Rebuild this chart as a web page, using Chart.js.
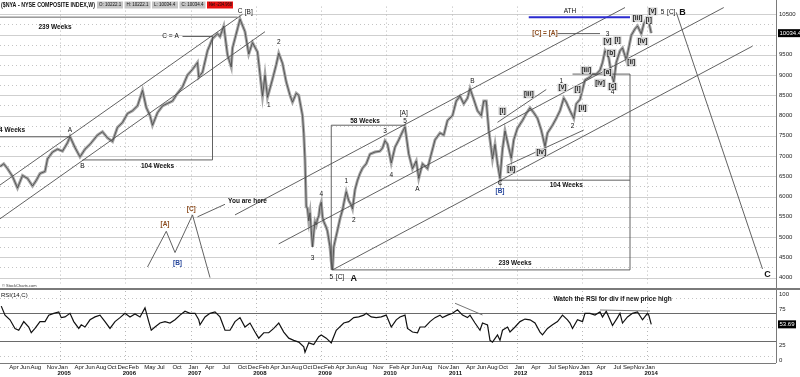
<!DOCTYPE html>
<html>
<head>
<meta charset="utf-8">
<script src="https://cdn.jsdelivr.net/npm/chart.js@4.4.0/dist/chart.umd.min.js"></script>
<style>
html, body { margin: 0; padding: 0; background: #fff; }
#wrap { position: relative; width: 800px; height: 377px; overflow: hidden; }
canvas { position: absolute; left: 0; }
#priceChart { top: 0; }
#rsiChart { top: 290px; }
</style>
</head>
<body>
<div id="wrap">
  <canvas id="priceChart" width="800" height="290"></canvas>
  <canvas id="rsiChart" width="800" height="87"></canvas>
</div>
<script>
// weekly data, week 0 = first week of 2004
const weeks = [4,7,10,14,18,22,26,30,33,36,40,42,46,50,54,58,60,64,68,72,76,82,86,90,94,98,102,106,110,114,118,121,124,126,130,134,138,142,146,150,154,158,162,163,166,170,174,178,180,183,186,189,190,194,196,200,203,206,210,214,216,218,222,225,227,230,233,236,238,241,243,246,247,248,249,250,251,252,253,254,255,256,257,258,259,260,261,262,263,265,266,268,269,270,271,272,274,276,278,280,281,283,285,286,288,290,292,294,297,300,304,308,310,312,314,317,320,323,326,328,331,334,337,339,342,346,349,352,356,359,362,366,369,372,375,378,380,383,386,389,391,393,395,397,398,400,402,404,406,408,411,413,415,418,422,425,428,431,434,437,440,442,446,449,452,455,457,460,463,465,468,470,472,476,478,481,484,486,488,491,493,495,497,500,502,505,507,509,512,514,517,519,521,523,525];
const closes = [6740,6810,6690,6500,6210,6520,6450,6260,6400,6570,6620,6930,7100,7170,7120,7330,7480,7210,6980,7170,7290,7520,7600,7450,7360,7710,7830,8050,8120,8240,8620,8200,8000,7760,8070,8240,8300,8360,8550,8710,9000,9140,9310,8950,9070,9600,9900,10020,9950,10210,9500,9200,9670,10140,10380,10070,9520,9800,9570,8480,9000,8450,8900,9260,9540,9290,8830,8500,8330,8550,8500,8000,7560,6900,5760,5700,5400,5600,5170,4760,5100,5380,5300,5450,5520,5760,5860,5500,5380,5240,5140,4760,4400,4190,4760,4900,5170,5450,5670,5980,6120,5900,5790,5700,6170,6400,6570,6700,6810,7050,7100,7120,7200,7380,7290,6830,7220,7400,7600,7720,7050,6690,6880,6450,6810,6690,7050,7400,7570,7520,7880,8000,8360,8480,8290,8430,8670,8400,8120,8000,8360,8360,7640,7170,6930,7290,6810,6450,7170,7620,7210,6950,7400,7690,7880,8050,8190,8070,7930,7640,7240,7570,7760,7930,8120,8430,8330,8120,7930,8290,8400,8640,8880,8950,9020,9020,9120,9310,9600,9430,9050,8830,9310,9600,9670,9380,9670,9980,10140,10210,10020,10260,10380,10310,10034.4];

const rsiWeeks = [5,8,12,16,19,23,27,29,32,36,40,43,47,51,53,56,60,63,67,69,72,76,80,84,88,92,96,100,104,108,112,116,120,123,125,128,132,136,140,144,148,152,156,160,163,164,168,172,176,180,184,188,192,196,200,204,208,211,215,219,223,227,231,235,239,243,247,248,251,255,259,261,265,269,273,279,283,287,291,295,297,301,305,309,313,317,321,324,328,330,334,338,340,344,348,352,356,358,362,366,370,374,378,380,384,388,390,394,396,398,402,404,406,410,412,416,420,424,428,432,436,438,442,446,450,454,458,460,462,466,470,472,476,480,484,486,489,492,494,498,500,502,506,510,514,518,522,523,525];
const rsiValues = [79,66.5,60,48,45.5,57.5,50,42,48,57.5,57.5,66.5,69,71,63,64,69,57.5,48,53,50,60,64,66.5,57.5,48,57.5,63,69,64,68,64,76.5,57.5,45.5,50,55.5,57.5,55.5,60,66.5,72,69,69,60,53,64,69,71,64,45.5,45.5,57.5,63,50,55.5,43,34.5,42,42,48,55.5,43,34.5,31.5,29,22.5,15,28,25.5,36.5,39,34.5,28,45.5,55.5,57.5,63,64,66.5,69,64,63,64,66.5,50,60,64,66.5,48,43,42,50,50,57.5,63,66.5,63,66.5,69,74,66.5,63,66.5,55.5,45.5,55.5,53,31.5,29,39,31.5,45.5,50,43,50,57.5,61,60,55.5,43,39,48,53,57.5,66.5,60,55.5,48,60,57.5,69,69,66.5,71,64,72,60,52,63,69,55.5,64,69,71,60,69,66.5,53.69];

const priceTicks = [4000,4500,5000,5500,6000,6500,7000,7500,8000,8500,9000,9500,10000,10500];
const rsiTicks = [0,25,75,100];
const monthTicks = ['2004-04','2004-06','2004-08','2004-11','2005-01','2005-04','2005-06','2005-08','2005-10','2005-12','2006-02','2006-05','2006-07','2006-10','2007-01','2007-04','2007-07','2007-10','2007-12','2008-02','2008-04','2008-06','2008-08','2008-10','2008-12','2009-02','2009-04','2009-06','2009-08','2009-11','2010-02','2010-04','2010-06','2010-08','2010-11','2011-01','2011-04','2011-06','2011-08','2011-10','2012-01','2012-04','2012-07','2012-09','2012-11','2013-01','2013-04','2013-07','2013-09','2013-11','2014-01'];
const yearTicks = [2005,2006,2007,2008,2009,2010,2011,2012,2013,2014];

const lastClose = 10034.4;
const lastRsi = 53.69;

const WPY = 52.18;
const MONTHS = ['Jan','Feb','Mar','Apr','May','Jun','Jul','Aug','Sep','Oct','Nov','Dec'];
const X_MIN = 4, X_MAX = 624.8;
const FONT = 'Liberation Sans, Arial, sans-serif';

function monthWeek(s) {
    const [y, m] = s.split('-').map(Number);
    return (y - 2004 + (m - 0.5) / 12) * WPY;
}

// chart markup (week, price)
const priceLines = [
    { pts: [[4, 10430], [194, 10430]] },
    { pts: [[4, 7476], [60, 7476]] },
    { pts: [[70, 6905], [174, 6905], [174, 9952]] },
    { pts: [[150, 9952], [174, 9952]] },
    { pts: [[4, 6286], [198, 10500]] },
    { pts: [[4, 5452], [216, 10071]] },
    { pts: [[192, 5548], [504, 10667]] },
    { pts: [[227, 4833], [583, 10667]] },
    { pts: [[270, 4190], [606, 9714]] },
    { pts: [[402, 7833], [441, 8643]] },
    { pts: [[409, 6762], [471, 7643]] },
    { pts: [[328, 7762], [269, 7762], [269, 4190]] },
    { pts: [[270, 4190], [508, 4190], [508, 9024], [462, 9024]] },
    { pts: [[404, 6405], [508, 6405]] },
    { pts: [[450, 10024], [484, 10024]] },
    { pts: [[427, 10429], [508, 10429]], color: '#2b2bd0', width: 2 },
    { pts: [[545, 10548], [614, 4214]] },
    { pts: [[122, 4262], [137, 5143], [144, 4619], [158, 5548], [172, 4000]] },
    { pts: [[162, 5500], [184, 5810]] }
];

const priceLabels = [
    [48, 10190, '239 Weeks', 'b'],
    [24, 7643, '104 Weeks', 'br'],
    [60, 7643, 'A', 'n'],
    [70, 6738, 'B', 'n'],
    [130, 6738, '104 Weeks', 'b'],
    [147, 9952, 'C = A', 'nr'],
    [196, 10571, 'C', 'n'], [203, 10548, '[B]', 'n'],
    [227, 9810, '2', 'n'],
    [219, 8262, '1', 'n'],
    [254, 4476, '3', 'n'],
    [261, 6071, '4', 'n'],
    [269, 4000, '5', 'n'], [276, 4000, '[C]', 'n'], [287, 3976, 'A', 'big'],
    [281, 6381, '1', 'n'],
    [287, 5429, '2', 'n'],
    [312, 7619, '3', 'n'],
    [317, 6524, '4', 'n'],
    [327, 8048, '[A]', 'n'], [328, 7857, '5', 'n'],
    [338, 6190, 'A', 'n'],
    [382, 8857, 'B', 'n'],
    [404, 6333, 'C', 'n'], [404, 6143, '[B]', 'blue'],
    [406, 8119, '[i]', 'box'],
    [413, 6667, '[ii]', 'box'],
    [427, 8524, '[iii]', 'box'],
    [437, 7095, '[iv]', 'box'],
    [453, 8857, '1', 'n'], [454, 8690, '[v]', 'box'],
    [466, 8643, '[i]', 'box'],
    [470, 8190, '[ii]', 'box'],
    [462, 7738, '2', 'n'],
    [473, 9119, '[iii]', 'box'],
    [484, 8810, '[iv]', 'box'],
    [490, 9071, '[a]', 'box'],
    [493, 9548, '[b]', 'box'],
    [494, 8714, '[c]', 'box'], [494, 8571, '4', 'n'],
    [490, 10000, '3', 'n'], [490, 9833, '[v]', 'box'],
    [498, 9857, '[i]', 'box'],
    [509, 9310, '[ii]', 'box'],
    [514, 10405, '[iii]', 'box'],
    [518, 9833, '[iv]', 'box'],
    [523, 10357, '[i]', 'box'],
    [526, 10571, '[v]', 'box'], [534, 10548, '5', 'n'], [541, 10548, '[C]', 'n'], [550, 10548, 'B', 'big'],
    [460, 10571, 'ATH', 'n'],
    [440, 10024, '[C] = [A]', 'brown'],
    [618, 4071, 'C', 'big'],
    [136, 5310, '[A]', 'brown'], [146, 4357, '[B]', 'blue'], [157, 5690, '[C]', 'brown'],
    [202, 5881, 'You are here', 'b'],
    [296, 7857, '58 Weeks', 'b'],
    [416, 4357, '239 Weeks', 'b'],
    [457, 6286, '104 Weeks', 'b']
];

// (week, rsi)
const rsiLines = [
    { pts: [[368, 83], [390, 66.7]], color: '#666' },
    { pts: [[484, 73.6], [524, 72.2]], color: '#666' }
];

function px(chart, w, v) {
    return [chart.scales.x.getPixelForValue(w), chart.scales.y.getPixelForValue(v)];
}

function drawLines(ctx, chart, lines) {
    lines.forEach(l => {
        ctx.save();
        ctx.strokeStyle = l.color || '#505050';
        ctx.lineWidth = l.width || 0.9;
        ctx.beginPath();
        l.pts.forEach((p, i) => {
            const [x, y] = px(chart, p[0], p[1]);
            if (i) ctx.lineTo(x, y); else ctx.moveTo(x, y);
        });
        ctx.stroke();
        ctx.restore();
    });
}

function drawLabels(ctx, chart, labels) {
    labels.forEach(([w, v, text, kind]) => {
        const [x, y] = px(chart, w, v);
        ctx.save();
        ctx.textBaseline = 'middle';
        ctx.textAlign = kind.endsWith('r') ? 'right' : 'center';
        let color = '#111', font = 'bold 6.5px ' + FONT;
        if (kind === 'big') font = 'bold 9px ' + FONT;
        if (kind === 'blue') color = '#24449a';
        if (kind === 'brown') color = '#8b4a1c';
        if (kind === 'n' || kind === 'nr') font = '6.5px ' + FONT;
        ctx.font = font;
        if (kind === 'box') {
            const tw = ctx.measureText(text).width;
            ctx.fillStyle = '#d4d4d4';
            ctx.fillRect(x - tw / 2 - 1, y - 4, tw + 2, 8);
            color = '#222';
        }
        ctx.fillStyle = color;
        ctx.fillText(text, x, y);
        ctx.restore();
    });
}

function drawYearGrid(ctx, chart) {
    const a = chart.chartArea, xs = chart.scales.x;
    ctx.save();
    ctx.strokeStyle = '#b8b8b8';
    ctx.lineWidth = 1;
    ctx.setLineDash([1, 3]);
    yearTicks.forEach(yr => {
        const x = Math.round(xs.getPixelForValue((yr - 2004) * WPY)) + 0.5;
        ctx.beginPath(); ctx.moveTo(x, a.top); ctx.lineTo(x, a.bottom); ctx.stroke();
    });
    ctx.restore();
}

function hLine(ctx, a, y, color, dash) {
    ctx.save();
    ctx.strokeStyle = color;
    ctx.lineWidth = 1;
    ctx.setLineDash(dash || []);
    ctx.beginPath();
    ctx.moveTo(a.left, Math.round(y) + 0.5);
    ctx.lineTo(a.right, Math.round(y) + 0.5);
    ctx.stroke();
    ctx.restore();
}

function tag(ctx, x, y, text) {
    ctx.save();
    ctx.font = '6px ' + FONT;
    const tw = ctx.measureText(text).width;
    ctx.fillStyle = '#000';
    ctx.fillRect(x, y - 4, tw + 3, 8);
    ctx.fillStyle = '#fff';
    ctx.textBaseline = 'middle';
    ctx.fillText(text, x + 1.5, y);
    ctx.restore();
}

// text squeezed into a given width
function fitText(ctx, text, x, y, maxW) {
    const tw = ctx.measureText(text).width;
    const sx = Math.min(1, maxW / tw);
    ctx.save();
    ctx.translate(x, y);
    ctx.scale(sx, 1);
    ctx.fillText(text, 0, 0);
    ctx.restore();
}

const priceDecor = {
    id: 'priceDecor',
    beforeDatasetsDraw(chart) {
        const ctx = chart.ctx, a = chart.chartArea, ys = chart.scales.y;
        priceTicks.forEach(v => {
            hLine(ctx, a, ys.getPixelForValue(v), '#cfcfcf');
            if (v < 10500) hLine(ctx, a, ys.getPixelForValue(v + 250), '#c4c4c4', [1, 3]);
        });
        drawYearGrid(ctx, chart);
    },
    afterDraw(chart) {
        const ctx = chart.ctx, a = chart.chartArea;
        drawLines(ctx, chart, priceLines);
        drawLabels(ctx, chart, priceLabels);
        // frame
        ctx.save();
        ctx.strokeStyle = '#7a7a7a';
        ctx.lineWidth = 1;
        ctx.beginPath();
        ctx.moveTo(a.right + 0.5, 0); ctx.lineTo(a.right + 0.5, 290);
        ctx.stroke();
        ctx.lineWidth = 2;
        ctx.beginPath();
        ctx.moveTo(0, 289); ctx.lineTo(800, 289);
        ctx.stroke();
        ctx.restore();
        // header
        ctx.save();
        ctx.fillStyle = '#fff';
        ctx.fillRect(0, 0, 236, 9);
        ctx.font = 'bold 6.5px ' + FONT;
        ctx.fillStyle = '#111';
        ctx.textBaseline = 'middle';
        fitText(ctx, '($NYA - NYSE COMPOSITE INDEX,W)', 1, 5, 94);
        const boxes = [['O: 10222.1', 97, '#c6c6c6'], ['H: 10222.1', 124.5, '#c6c6c6'], ['L: 10034.4', 152, '#c6c6c6'], ['C: 10034.4', 179.5, '#c6c6c6'], ['Net -234.968', 207, '#e81010']];
        ctx.font = '4.5px ' + FONT;
        boxes.forEach(([t, x, c]) => {
            ctx.fillStyle = c;
            ctx.fillRect(x, 1.5, 26, 7);
            ctx.fillStyle = '#111';
            fitText(ctx, t, x + 2, 5, 23);
        });
        ctx.font = '4px ' + FONT;
        ctx.fillStyle = '#333';
        ctx.fillText('\u00a9 StockCharts.com', 2, 285.5);
        ctx.restore();
        tag(ctx, a.right + 2, chart.scales.y.getPixelForValue(lastClose), String(lastClose));
    }
};

const rsiDecor = {
    id: 'rsiDecor',
    beforeDatasetsDraw(chart) {
        const ctx = chart.ctx, a = chart.chartArea, ys = chart.scales.y;
        [10, 50, 90].forEach(v => hLine(ctx, a, ys.getPixelForValue(v), '#c4c4c4', [1, 3]));
        [30, 70].forEach(v => hLine(ctx, a, ys.getPixelForValue(v), '#6a6a6a'));
        drawYearGrid(ctx, chart);
    },
    afterDraw(chart) {
        const ctx = chart.ctx, a = chart.chartArea, ys = chart.scales.y;
        drawLines(ctx, chart, rsiLines);
        ctx.save();
        ctx.strokeStyle = '#7a7a7a';
        ctx.lineWidth = 1;
        ctx.beginPath();
        ctx.moveTo(a.right + 0.5, 0); ctx.lineTo(a.right + 0.5, a.bottom);
        ctx.moveTo(0, a.bottom + 0.5); ctx.lineTo(a.right, a.bottom + 0.5);
        ctx.stroke();
        ctx.font = '6px ' + FONT;
        ctx.fillStyle = '#222';
        ctx.textBaseline = 'middle';
        rsiTicks.forEach(v => {
            const y = Math.min(Math.max(ys.getPixelForValue(v), a.top + 3), a.bottom - 3);
            ctx.fillText(String(v), a.right + 3, y);
        });
        ctx.font = '6px ' + FONT;
        ctx.fillStyle = '#111';
        ctx.fillText('RSI(14,C)', 1, 5);
        ctx.font = 'bold 6.5px ' + FONT;
        ctx.textAlign = 'center';
        ctx.fillText('Watch the RSI for div if new price high', chart.scales.x.getPixelForValue(494), ys.getPixelForValue(89));
        ctx.restore();
        tag(ctx, a.right + 2, ys.getPixelForValue(lastRsi), String(lastRsi));
    }
};

const pricePoints = weeks.map((w, i) => ({ x: w, y: closes[i] }));

new Chart(document.getElementById('priceChart'), {
    type: 'line',
    data: {
        datasets: [{
            data: pricePoints,
            borderColor: '#444',
            borderWidth: 0.8,
            pointRadius: 0,
            tension: 0
        }, {
            data: pricePoints,
            borderColor: '#a6a6a6',
            borderWidth: 3,
            pointRadius: 0,
            tension: 0
        }]
    },
    options: {
        responsive: false,
        animation: false,
        devicePixelRatio: 1,
        layout: { autoPadding: false, padding: { top: 2, bottom: 1, left: 0, right: 0 } },
        plugins: { legend: { display: false }, tooltip: { enabled: false } },
        scales: {
            x: { type: 'linear', min: X_MIN, max: X_MAX, display: false },
            y: {
                position: 'right', min: 3857, max: 10690,
                afterBuildTicks(s) { s.ticks = priceTicks.map(v => ({ value: v })); },
                afterFit(s) { s.width = 24; },
                grid: { display: false, drawTicks: false },
                border: { display: false },
                ticks: { font: { size: 6, family: FONT }, color: '#222', padding: 3, callback: v => String(v) }
            }
        }
    },
    plugins: [priceDecor]
});

new Chart(document.getElementById('rsiChart'), {
    type: 'line',
    data: {
        datasets: [{
            data: rsiWeeks.map((w, i) => ({ x: w, y: rsiValues[i] })),
            borderColor: '#111',
            borderWidth: 1.2,
            pointRadius: 0,
            tension: 0
        }]
    },
    options: {
        responsive: false,
        animation: false,
        devicePixelRatio: 1,
        layout: { autoPadding: false, padding: { top: 1, bottom: 0, left: 0, right: 0 } },
        plugins: { legend: { display: false }, tooltip: { enabled: false } },
        scales: {
            x: {
                type: 'linear', axis: 'x', position: 'bottom', min: X_MIN, max: X_MAX, weight: 0,
                afterBuildTicks(s) { s.ticks = monthTicks.map(m => ({ value: monthWeek(m) })); },
                afterFit(s) { s.height = 7; },
                grid: { display: false, drawTicks: false },
                border: { display: false },
                ticks: {
                    autoSkip: false, maxRotation: 0, minRotation: 0, padding: 1,
                    font: { size: 6, family: FONT }, color: '#111',
                    callback: (v, i) => MONTHS[Number(monthTicks[i].slice(5)) - 1]
                }
            },
            xYear: {
                type: 'linear', axis: 'x', position: 'bottom', min: X_MIN, max: X_MAX, weight: 1,
                afterBuildTicks(s) { s.ticks = yearTicks.map(y => ({ value: (y - 2004 + 0.06) * WPY })); },
                afterFit(s) { s.height = 7; },
                grid: { display: false, drawTicks: false },
                border: { display: false },
                ticks: {
                    autoSkip: false, maxRotation: 0, minRotation: 0, padding: 0,
                    font: { size: 6, family: FONT, weight: 'bold' }, color: '#111',
                    callback: (v, i) => String(yearTicks[i])
                }
            },
            y: {
                position: 'right', min: 0, max: 100,
                afterFit(s) { s.width = 24; },
                grid: { display: false, drawTicks: false },
                border: { display: false },
                ticks: { display: false }
            }
        }
    },
    plugins: [rsiDecor]
});
</script>
</body>
</html>
